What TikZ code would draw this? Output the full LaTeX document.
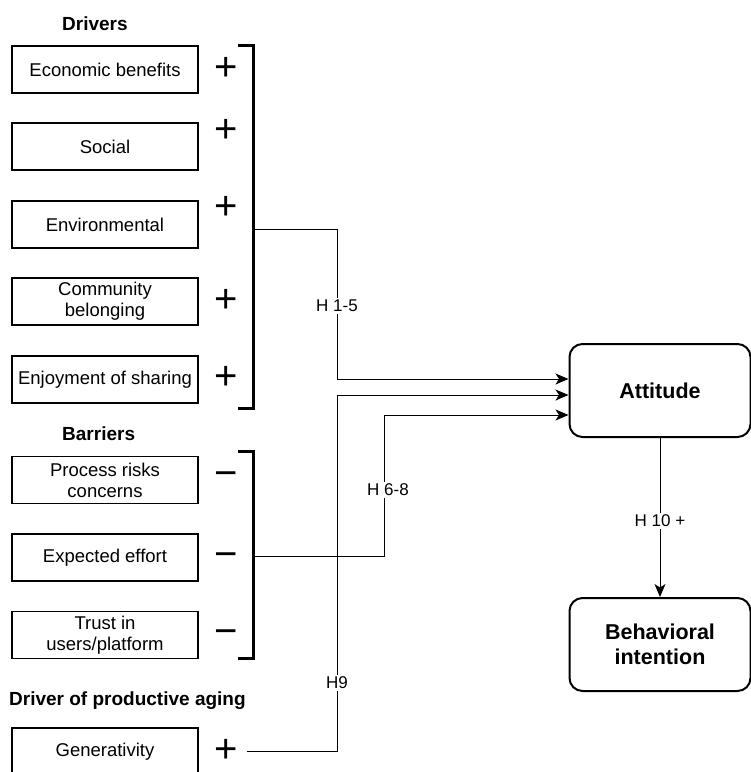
\documentclass[tikz,border=0pt]{standalone}
\usepackage{fontspec}
\setmainfont{Liberation Sans}
\usetikzlibrary{arrows.meta}
\tikzset{
	factor/.style={draw, line width=1.2pt, minimum width=186pt, minimum height=47pt, inner sep=0pt, align=center, font=\fontsize{18.5}{21}\selectfont},
	outcome/.style={draw, line width=2pt, rounded corners=13pt, minimum width=181pt, minimum height=93pt, align=center, font=\fontsize{21.5}{25}\selectfont\bfseries},
	group/.style={anchor=base west, inner sep=0pt, font=\fontsize{19}{23}\selectfont\bfseries},
	sign/.style={inner sep=0pt, font=\fontsize{40}{40}\selectfont},
	hyp/.style={fill=white, inner sep=2pt, font=\fontsize{17}{20}\selectfont},
	bracket/.style={line width=3pt},
	link/.style={line width=1pt, -{Stealth[length=13pt,width=11pt,inset=3.5pt]}},
}

\begin{document}
\begin{tikzpicture}[x=1pt, y=-1pt]
		%%%%% START %%%%%
		\useasboundingbox (0,0) rectangle (751,772);
		
		\node[group] (drvhead) at (62,30.7) {Drivers};
		\node[factor] (econ) at (105,69.5) {Economic benefits};
		\node[factor] (soc) at (105,146.5) {Social};
		\node[factor] (env) at (105,224.5) {Environmental};
		\node[factor] (comm) at (105,301.5) {Community\\belonging};
		\node[factor] (enjoy) at (105,379.5) {Enjoyment of sharing};
		
		\node[sign] (econs) at (226,69) {+};
		\node[sign] (socs) at (226,131) {+};
		\node[sign] (envs) at (226,208) {+};
		\node[sign] (comms) at (226,301) {+};
		\node[sign] (enjoys) at (226,378) {+};
		
		\draw[bracket] (238,45) -- (253,45) -- (253,408) -- (238,408);
		\coordinate (drvout) at (253,229);
		
		\node[group] (barhead) at (62,440.7) {Barriers};
		\node[factor] (risk) at (105,480) {Process risks\\concerns};
		\node[factor] (effort) at (105,557.5) {Expected effort};
		\node[factor] (trust) at (105,635) {Trust in\\users/platform};
		
		\node[sign] (risks) at (226,475) {\vphantom{+}−};
		\node[sign] (efforts) at (226,556) {\vphantom{+}−};
		\node[sign] (trusts) at (226,633) {\vphantom{+}−};
		
		\draw[bracket] (238,451) -- (253,451) -- (253,658) -- (238,658);
		\coordinate (barout) at (253,556);
		
		\node[group] (genhead) at (9,705) {Driver of productive aging};
		\node[factor] (gen) at (105,751.5) {Generativity};
		\node[sign] (gens) at (226,751) {+};
		
		\node[outcome] (att) at (660,390.5) {Attitude};
		\node[outcome] (beh) at (660,644.5) {Behavioral\\intention};
		
		% paths into attitude
		\draw[link] (drvout) -- (337,229) -- (337,379) -- (att.west |- 0,379);
		\draw[link] ([xshift=9pt]gens.east) -- (337,751) -- (337,395) -- (att.west |- 0,395);
		\draw[link] (barout) -- (384,556) -- (384,415) -- (att.west |- 0,415);
		\node[hyp] (h15) at (337,306) {H 1-5};
		\node[hyp] (h68) at (388,490) {H 6-8};
		\node[hyp] (h9) at (337,683) {H9};
		
		\draw[link] (att) -- (beh) node[hyp, pos=0.52] (h10) {H 10 +};
		%%%%% END %%%%%
	\end{tikzpicture}
\end{document}
